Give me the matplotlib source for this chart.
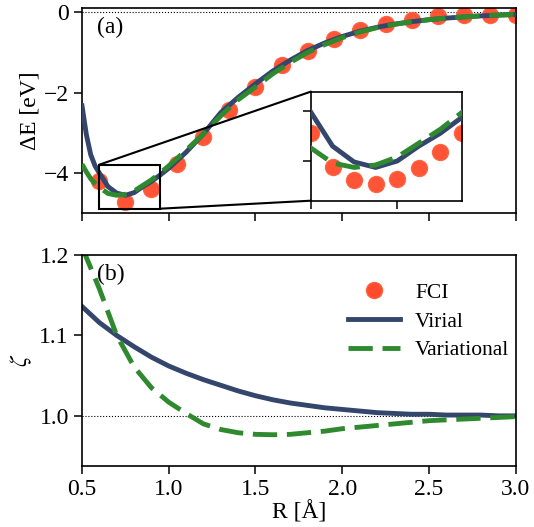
import matplotlib
matplotlib.use("Agg")
import matplotlib.pyplot as plt
from matplotlib.patches import Rectangle, ConnectionPatch
from matplotlib.lines import Line2D

plt.rcParams['font.family'] = ['Liberation Serif', 'DejaVu Serif']
plt.rcParams['mathtext.fontset'] = 'stix'
plt.rcParams['font.size'] = 17

# FCI reference energies (eV), coarse grid for the main panel
fci_R = [0.60, 0.75, 0.90, 1.05, 1.20, 1.35, 1.50, 1.65, 1.80, 1.95,
         2.10, 2.25, 2.40, 2.55, 2.70, 2.85, 3.00]
fci_E = [-4.22, -4.74, -4.41, -3.79, -3.11, -2.43, -1.85, -1.32, -0.97, -0.67,
         -0.44, -0.29, -0.19, -0.10, -0.065, -0.06, -0.06]

# FCI on the fine grid near the minimum (zoom)
fci_R_fine = [0.60, 0.65, 0.70, 0.75, 0.80, 0.85, 0.90, 0.95]
fci_E_fine = [-4.216, -4.558, -4.695, -4.736, -4.685, -4.575, -4.405, -4.216]

# model binding curves
R = [0.50, 0.525, 0.55, 0.575, 0.60, 0.65, 0.70, 0.75, 0.80, 0.85, 0.90, 0.95, 1.0,
     1.1, 1.2, 1.3, 1.4, 1.5, 1.6, 1.7, 1.8, 1.9, 2.0,
     2.1, 2.2, 2.3, 2.4, 2.5, 2.6, 2.7, 2.8, 2.9, 3.0]
E_virial = [-2.33, -3.05, -3.55, -3.83, -4.01, -4.35, -4.51, -4.565, -4.50, -4.35, -4.22, -4.06, -3.89,
            -3.49, -3.03, -2.50, -2.12, -1.78, -1.46, -1.19, -0.95, -0.76, -0.60,
            -0.47, -0.37, -0.29, -0.23, -0.18, -0.14, -0.11, -0.085, -0.065, -0.05]
E_variational = [-3.79, -3.98, -4.15, -4.27, -4.37, -4.52, -4.565, -4.54, -4.46, -4.32, -4.18, -4.01, -3.83,
                 -3.44, -3.03, -2.58, -2.18, -1.86, -1.53, -1.25, -1.00, -0.80, -0.63,
                 -0.49, -0.38, -0.30, -0.23, -0.18, -0.14, -0.11, -0.085, -0.065, -0.05]

# orbital exponent zeta
R_z = [0.5, 0.6, 0.7, 0.8, 0.9, 1.0, 1.1, 1.2, 1.3, 1.4, 1.5, 1.6, 1.7, 1.8, 1.9,
       2.0, 2.1, 2.2, 2.3, 2.4, 2.5, 2.6, 2.7, 2.8, 2.9, 3.0]
zeta_virial = [1.136, 1.116, 1.100, 1.086, 1.073, 1.062, 1.053, 1.045, 1.038, 1.031,
               1.025, 1.020, 1.016, 1.013, 1.010, 1.008, 1.006, 1.004, 1.003, 1.002,
               1.002, 1.001, 1.001, 1.001, 1.000, 1.000]
zeta_variational = [1.21, 1.158, 1.100, 1.061, 1.035, 1.017, 1.003, 0.990, 0.983, 0.979,
                    0.977, 0.9765, 0.977, 0.979, 0.981, 0.984, 0.986, 0.988, 0.990, 0.992,
                    0.994, 0.995, 0.996, 0.997, 0.998, 0.999]

c_fci = '#ff4b2b'
c_vir = '#34466c'
c_var = '#2f8a2f'
lw = 3.5
dash = (5.0, 2.0)

fig = plt.figure(figsize=(5.34, 5.27), dpi=100)
ax1 = fig.add_axes([0.1536, 0.5964, 0.8121, 0.3875])
ax2 = fig.add_axes([0.1536, 0.1163, 0.8121, 0.3998])

for ax in (ax1, ax2):
    ax.tick_params(direction='out', length=6, width=1.1)
    for s in ax.spines.values():
        s.set_linewidth(1.2)

def draw_energy(ax, r_pts, e_pts):
    ax.plot(r_pts, e_pts, 'o', color=c_fci, mec='#ff6040', ms=11.5, alpha=0.95, zorder=2)
    ax.plot(R, E_virial, '-', color=c_vir, lw=lw, zorder=3)
    ax.plot(R, E_variational, '--', color=c_var, lw=lw, dashes=dash, zorder=4)

# (a) binding energy
draw_energy(ax1, fci_R, fci_E)
ax1.axhline(0, color='k', ls=':', lw=0.8, zorder=1)
ax1.set_xlim(0.5, 3.0)
ax1.set_ylim(-5.0, 0.1)
ax1.set_yticks([-4, -2, 0])
ax1.set_xticks([0.5, 1.0, 1.5, 2.0, 2.5, 3.0])
ax1.set_xticklabels([])
ax1.set_ylabel('ΔE [eV]', labelpad=2)
ax1.text(0.035, 0.96, '(a)', transform=ax1.transAxes, va='top', ha='left')

# zoom on the minimum
x0, x1, y0, y1 = 0.6, 0.95, -4.9, -3.8
axins = ax1.inset_axes([1.82, -4.70, 0.87, 2.725], transform=ax1.transData)
draw_energy(axins, fci_R_fine, fci_E_fine)
axins.set_xlim(x0, x1)
axins.set_ylim(y0, y1)
axins.set_xticks([0.6, 0.8])
axins.set_yticks([-4.5, -4.0])
axins.set_xticklabels([])
axins.set_yticklabels([])
axins.tick_params(direction='out', length=6, width=1.1)
for s in axins.spines.values():
    s.set_linewidth(1.2)

ax1.add_patch(Rectangle((x0, y0), x1 - x0, y1 - y0, fill=False, ec='k', lw=1.5, zorder=5))
for pa, pb in [((x0, y1), (0, 1)), ((x1, y0), (0, 0))]:
    con = ConnectionPatch(xyA=pa, coordsA=ax1.transData, xyB=pb, coordsB=axins.transAxes,
                          color='k', lw=1.5)
    fig.add_artist(con)

# (b) zeta
ax2.plot(R_z, zeta_virial, '-', color=c_vir, lw=lw)
ax2.plot(R_z, zeta_variational, '--', color=c_var, lw=lw, dashes=dash)
ax2.axhline(1.0, color='k', ls=':', lw=0.8, zorder=1)
ax2.set_xlim(0.5, 3.0)
ax2.set_ylim(0.938, 1.2)
ax2.set_yticks([1.0, 1.1, 1.2])
ax2.set_yticklabels(['1.0', '1.1', '1.2'])
ax2.set_xticks([0.5, 1.0, 1.5, 2.0, 2.5, 3.0])
ax2.set_xticklabels(['0.5', '1.0', '1.5', '2.0', '2.5', '3.0'])
ax2.set_xlabel('R [Å]', labelpad=1)
ax2.set_ylabel(r'$\zeta$')
ax2.text(0.035, 0.96, '(b)', transform=ax2.transAxes, va='top', ha='left')

handles = [
    Line2D([], [], ls='none', marker='o', color=c_fci, mec='#ff6040', ms=11.5),
    Line2D([], [], color=c_vir, lw=lw),
    Line2D([], [], color=c_var, lw=lw, ls='--', dashes=dash),
]
ax2.legend(handles, ['FCI', 'Virial', 'Variational'], loc='upper right',
           bbox_to_anchor=(1.03, 0.96), frameon=False, fontsize=15.5, handlelength=2.4,
           handletextpad=0.7, labelspacing=0.4)

fig.savefig('out.png', dpi=100)
